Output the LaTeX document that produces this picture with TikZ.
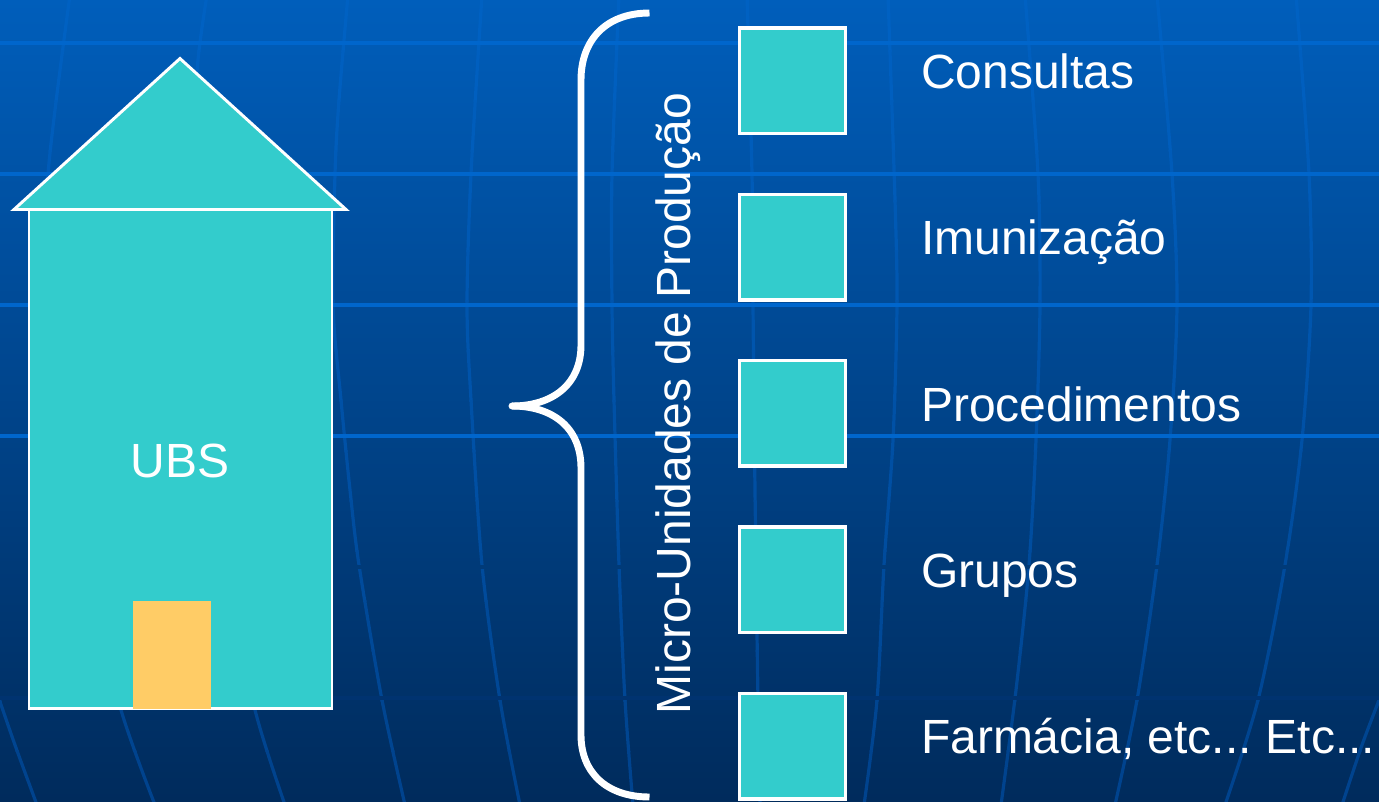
\documentclass[tikz,border=0pt]{standalone}
\usepackage{fontspec}
\setmainfont{Liberation Sans}
\definecolor{bgtop}{HTML}{005EBB}
\definecolor{bgbot}{HTML}{002B5C}
\definecolor{gridbright}{HTML}{0066CC}
\definecolor{gridfaintA}{HTML}{003A78}
\definecolor{gridfaintB}{HTML}{003370}
\definecolor{mertop}{HTML}{0061C2}
\definecolor{merbot}{HTML}{00438E}
\definecolor{teal}{HTML}{33CCCC}
\definecolor{door}{HTML}{FFCC66}
\tikzset{
  hgrid/.style={line width=3pt},
  meridian/.style={line width=2.4pt},
  wallshape/.style={draw=white,fill=teal,line width=2.2pt,miter limit=10},
  unitbox/.style={draw=white,fill=teal,line width=2.6pt,minimum width=79.5pt,minimum height=79pt,inner sep=0pt,outer sep=0pt},
  doorshape/.style={fill=door,draw=none,minimum width=58.5pt,minimum height=81pt,inner sep=0pt,outer sep=0pt},
  bracket/.style={draw=white,line width=5.2pt,line cap=butt,line join=round},
  lbl/.style={text=white,font=\fontsize{36}{40}\selectfont,inner sep=0pt,outer sep=0pt,anchor=base west},
}
\newcommand{\meridianpaths}{
  \draw plot[smooth] coordinates {(70,-5) (48,174) (46,305) (60,436) (85,567) (121,710) (155,805)};
  \draw plot[smooth] coordinates {(207,-5) (198,60) (190,174) (190,305) (200,436) (225,567) (255,710) (285,805)};
  \draw plot[smooth] coordinates {(-4,690) (15,745) (37,805)};
  \draw plot[smooth] coordinates {(348,-5) (339,100) (335,174) (333,305) (341,400) (350,490) (359,565) (382,700) (405,805)};
  \draw plot[smooth] coordinates {(482,-5) (471,174) (467,305) (471,400) (482,565) (500,700) (520,805)};
  \draw plot[smooth] coordinates {(619,-5) (612,174) (612,305) (614,400) (619,565) (625,700) (633,805)};
  \draw plot[smooth] coordinates {(747,-5) (752,174) (753,305) (755,490) (758,700) (760,805)};
  \draw plot[smooth] coordinates {(888,-5) (895,200) (897,305) (893,440) (884,565) (877,700) (864,805)};
  \draw plot[smooth] coordinates {(1025,-5) (1038,174) (1040,305) (1036,440) (1029,565) (1016,690) (1001,805)};
  \draw plot[smooth] coordinates {(1157,-5) (1172,174) (1177,305) (1170,440) (1157,565) (1137,700) (1115,805)};
  \draw plot[smooth] coordinates {(1296,-5) (1309,174) (1311,305) (1302,440) (1285,565) (1258,700) (1225,805)};
  \draw plot[smooth] coordinates {(1383,690) (1362,745) (1342,805)};
}
\begin{document}
\begin{tikzpicture}[x=0.75pt,y=-0.75pt]
\useasboundingbox (0,0) rectangle (1379,801);
% background
\shade[top color=bgtop,bottom color=bgbot] (0,0) rectangle (1379,801);
% curved meridians, fading band by band
\foreach \i in {0,...,15}{
  \pgfmathsetmacro{\pc}{100-\i*100/15}
  \begin{scope}
    \clip (0,{\i*50}) rectangle (1379,{\i*50+51});
    \begin{scope}[meridian,draw={mertop!\pc!merbot}]
      \meridianpaths
    \end{scope}
  \end{scope}
}
% horizontal grid
\foreach \yy in {43,174,305,436}{
  \draw[hgrid,gridbright] (0,\yy) -- (1379,\yy);
}
\draw[hgrid,gridfaintA] (0,567) -- (1379,567);
\draw[hgrid,gridfaintB] (0,698) -- (1379,698);
% house
\draw[wallshape] (29,209) rectangle (332,708.5);
\draw[wallshape] (180,58.5) -- (346,209.5) -- (14,209.5) -- cycle;
\node[doorshape,anchor=north west] (frontdoor) at (133.2,601) {};
\node[text=white,font=\fontsize{36}{40}\selectfont,inner sep=0pt,anchor=base] (ubs) at (180,477) {UBS};
% brace
\draw[bracket] (649.5,13) .. controls (606,13) and (581,40) .. (581,80)
  -- (581,345) .. controls (581,385) and (552,406) .. (512,406);
\draw[bracket] (512,406) .. controls (552,406) and (581,427) .. (581,468)
  -- (581,735) .. controls (581,772) and (606,797) .. (649.5,797);
\fill[white] (512,406) circle (2.6pt);
% vertical label
\node[lbl,rotate=90] (micro) at (690,714.5) {Micro-Unidades de Produção};
% unit boxes
\node[unitbox,anchor=north west] (b1) at (739.7,28) {};
\node[unitbox,anchor=north west] (b2) at (739.7,194.5) {};
\node[unitbox,anchor=north west] (b3) at (739.7,360.5) {};
\node[unitbox,anchor=north west] (b4) at (739.7,527) {};
\node[unitbox,anchor=north west] (b5) at (739.7,693.5) {};
% labels
\node[lbl] (l1) at (921,88) {Consultas};
\node[lbl] (l2) at (921,254) {Imunização};
\node[lbl] (l3) at (921,421) {Procedimentos};
\node[lbl] (l4) at (921,587) {Grupos};
\node[lbl] (l5) at (921,753) {Farmácia, etc...\hspace{-2.8pt} Etc...};
\end{tikzpicture}
\end{document}
